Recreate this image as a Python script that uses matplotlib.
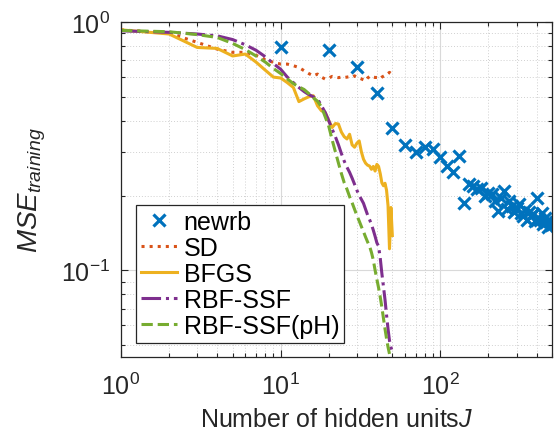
import numpy as np
import matplotlib
matplotlib.use("Agg")
import matplotlib.pyplot as plt
from matplotlib.ticker import LogLocator, NullFormatter, FuncFormatter

plt.rcParams['font.family'] = ['Liberation Sans', 'DejaVu Sans']
plt.rcParams['mathtext.fontset'] = 'custom'
plt.rcParams['mathtext.rm'] = 'Liberation Sans'
plt.rcParams['mathtext.it'] = 'Liberation Sans:italic'
plt.rcParams['mathtext.bf'] = 'Liberation Sans:bold'
plt.rcParams['axes.unicode_minus'] = False

# hidden units for the iterative methods and newrb
units = list(range(1, 51))
units_ph = list(range(1, 49))
units_newrb = list(range(10, 501, 10))

mse_sd = [0.93, 0.903, 0.828, 0.778, 0.755, 0.755, 0.735, 0.705, 0.688, 0.677,
          0.677, 0.667, 0.656, 0.637, 0.62, 0.607, 0.617, 0.60, 0.589, 0.595,
          0.604, 0.60, 0.597, 0.60, 0.598, 0.60, 0.603, 0.60, 0.607, 0.60,
          0.595, 0.59, 0.585, 0.58, 0.595, 0.603, 0.607, 0.60, 0.598, 0.598,
          0.598, 0.592, 0.60, 0.605, 0.61, 0.612, 0.62, 0.627, 0.62, 0.623]

mse_bfgs = [0.93, 0.895, 0.79, 0.783, 0.73, 0.743, 0.69, 0.64, 0.60, 0.595,
            0.57, 0.545, 0.478, 0.49, 0.50, 0.505, 0.46, 0.439, 0.432, 0.40,
            0.376, 0.39, 0.388, 0.36, 0.345, 0.338, 0.353, 0.32, 0.313, 0.325,
            0.332, 0.30, 0.28, 0.27, 0.265, 0.263, 0.255, 0.262, 0.251, 0.267,
            0.262, 0.245, 0.225, 0.219, 0.224, 0.21, 0.182, 0.122, 0.179, 0.138]

mse_ssf = [0.922, 0.909, 0.895, 0.88, 0.85, 0.81, 0.77, 0.725, 0.68, 0.645,
           0.60, 0.57, 0.545, 0.525, 0.51, 0.50, 0.49, 0.46, 0.432, 0.40,
           0.37, 0.345, 0.32, 0.295, 0.275, 0.26, 0.248, 0.235, 0.222, 0.21,
           0.20, 0.193, 0.186, 0.176, 0.167, 0.16, 0.153, 0.145, 0.137, 0.129,
           0.125, 0.112, 0.097, 0.086, 0.076, 0.066, 0.058, 0.052, 0.049, 0.047]

mse_ssf_ph = [0.925, 0.914, 0.89, 0.867, 0.82, 0.775, 0.73, 0.69, 0.65, 0.62,
              0.59, 0.565, 0.548, 0.535, 0.515, 0.495, 0.48, 0.455, 0.415, 0.38,
              0.335, 0.30, 0.27, 0.245, 0.225, 0.212, 0.198, 0.187, 0.176, 0.166,
              0.158, 0.15, 0.143, 0.136, 0.13, 0.125, 0.118, 0.11, 0.10, 0.092,
              0.085, 0.078, 0.071, 0.064, 0.058, 0.053, 0.049, 0.046]

mse_newrb = [0.79, 0.77, 0.66, 0.52, 0.375, 0.32, 0.30, 0.314, 0.308, 0.286,
             0.263, 0.248, 0.289, 0.187, 0.222, 0.219, 0.212, 0.215, 0.200, 0.205,
             0.203, 0.190, 0.173, 0.195, 0.209, 0.176, 0.190, 0.182, 0.171, 0.178,
             0.185, 0.170, 0.166, 0.175, 0.160, 0.172, 0.165, 0.168, 0.158, 0.196,
             0.163, 0.160, 0.170, 0.153, 0.162, 0.156, 0.149, 0.158, 0.152, 0.153]

TXT = '#262626'


def pow10(v, pos):
    e = int(round(np.log10(v)))
    return r'$\mathregular{10^{%d}}$' % e


fig = plt.figure(figsize=(5.59, 4.39), dpi=100)
ax = fig.add_axes([0.2165, 0.1845, 0.771, 0.763])

ax.plot(units_newrb, mse_newrb, 'x', color='#0072BD', ms=9, mew=2.3, label='newrb')
ax.plot(units, mse_sd, ':', color='#D95319', lw=2.2, label='SD')
ax.plot(units, mse_bfgs, '-', color='#EDB120', lw=2.2, label='BFGS')
ax.plot(units, mse_ssf, '-.', color='#7E2F8E', lw=2.2, label='RBF-SSF')
ax.plot(units_ph, mse_ssf_ph, '--', color='#77AC30', lw=2.2, label='RBF-SSF(pH)')

ax.set_xscale('log')
ax.set_yscale('log')
ax.set_xlim(1, 500)
ax.set_ylim(0.0447, 1)

ax.xaxis.set_minor_locator(LogLocator(base=10, subs=np.arange(2, 10)))
ax.yaxis.set_minor_locator(LogLocator(base=10, subs=np.arange(2, 10)))
ax.xaxis.set_minor_formatter(NullFormatter())
ax.yaxis.set_minor_formatter(NullFormatter())
ax.xaxis.set_major_formatter(FuncFormatter(pow10))
ax.yaxis.set_major_formatter(FuncFormatter(pow10))

ax.grid(True, which='major', color='#d9d9d9', lw=0.8, ls='-')
ax.grid(True, which='minor', color='#d0d0d0', lw=0.7, ls=(0, (1, 2)))
ax.set_axisbelow(True)

ax.tick_params(which='both', direction='in', top=True, right=True, colors=TXT,
               labelsize=18, width=0.8)
ax.tick_params(which='major', length=5)
ax.tick_params(axis='x', which='major', pad=11)
ax.tick_params(axis='y', which='major', pad=8)
ax.tick_params(which='minor', length=3)
for s in ax.spines.values():
    s.set_color(TXT)
    s.set_linewidth(0.9)

ax.set_xlabel(r'Number of hidden units$J$', fontsize=18, color=TXT, labelpad=6)
ax.set_ylabel(r'$MSE_{training}$', fontsize=20, color=TXT, labelpad=9)

leg = ax.legend(loc='lower left', bbox_to_anchor=(0.035, 0.042), borderaxespad=0,
                fontsize=18, handlelength=1.45, handletextpad=0.25,
                labelspacing=0.08, borderpad=0.2, fancybox=False, framealpha=1)
leg.get_frame().set_edgecolor(TXT)
leg.get_frame().set_linewidth(0.9)

fig.savefig('out.png', dpi=100)
